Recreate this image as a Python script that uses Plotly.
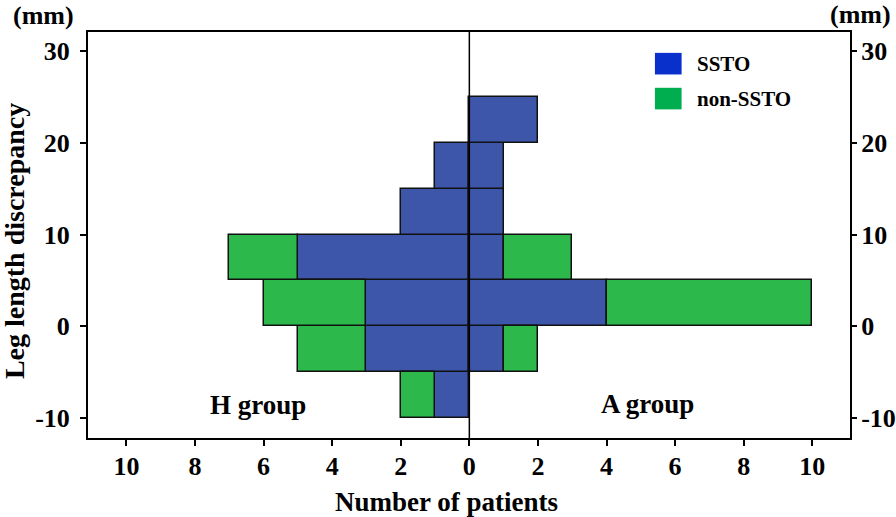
import plotly.graph_objects as go

#~ Data
bin_low = [-10, -5, 0, 5, 10, 15, 20]     # leg length discrepancy bins (mm), width 5
bin_w = 5
h_ssto = [1, 3, 3, 5, 2, 1, 0]            # H group, SSTO
h_non = [1, 2, 3, 2, 0, 0, 0]             # H group, non-SSTO
a_ssto = [0, 1, 4, 1, 1, 1, 2]            # A group, SSTO
a_non = [0, 1, 6, 2, 0, 0, 0]             # A group, non-SSTO
x_ticks = [-10, -8, -6, -4, -2, 0, 2, 4, 6, 8, 10]
y_ticks = [-10, 0, 10, 20, 30]

BLUE = "#3d56aa"
GREEN = "#2db84b"
FONT = "Liberation Serif"
centers = [b + bin_w / 2 for b in bin_low]
nz = lambda v: [x if x != 0 else None for x in v]
line = dict(color="#111111", width=1.5)

traces = [
    go.Bar(y=centers, x=nz([-v for v in h_ssto]), base=0, orientation="h", width=bin_w,
           marker=dict(color=BLUE, line=line), showlegend=False),
    go.Bar(y=centers, x=nz([-v for v in h_non]), base=[-v for v in h_ssto], orientation="h",
           width=bin_w, marker=dict(color=GREEN, line=line), showlegend=False),
    go.Bar(y=centers, x=nz(a_ssto), base=0, orientation="h", width=bin_w,
           marker=dict(color=BLUE, line=line), showlegend=False),
    go.Bar(y=centers, x=nz(a_non), base=a_ssto, orientation="h", width=bin_w,
           marker=dict(color=GREEN, line=line), showlegend=False),
    # invisible trace so the right-hand axis is drawn
    go.Scatter(x=[0], y=[0], yaxis="y2", mode="markers", marker=dict(opacity=0),
               showlegend=False, hoverinfo="skip"),
]

fig = go.Figure(data=traces)
tickfont = dict(family=FONT, size=26, color="black", weight="bold")
ytext = [str(t) for t in y_ticks]
fig.update_layout(
    width=896, height=517,
    margin=dict(l=88, r=46, t=32, b=79, autoexpand=False),
    paper_bgcolor="white", plot_bgcolor="white",
    barmode="overlay", bargap=0,
    font=dict(family=FONT, color="black"),
    xaxis=dict(range=[-11.12, 11.1], tickvals=x_ticks, ticktext=[str(abs(t)) for t in x_ticks],
               showgrid=False, zeroline=False, showline=True, linecolor="black", linewidth=2,
               mirror=True, ticks="outside", ticklen=6, tickwidth=1.5, tickcolor="black",
               tickfont=tickfont, ticklabelstandoff=-2, automargin=False),
    yaxis=dict(range=[-12.2, 32.1], tickvals=y_ticks, ticktext=ytext, showgrid=False,
               zeroline=False, showline=True, linecolor="black", linewidth=2, mirror=True,
               ticks="outside", ticklen=6, tickwidth=1.5, tickcolor="black",
               tickfont=tickfont, ticklabelstandoff=5, automargin=False),
    yaxis2=dict(range=[-12.2, 32.1], tickvals=y_ticks, ticktext=ytext, overlaying="y",
                side="right", showgrid=False, zeroline=False, showline=False,
                ticks="outside", ticklen=6, tickwidth=1.5, tickcolor="black",
                tickfont=tickfont, ticklabelstandoff=-1, automargin=False),
)

# centre line at zero
fig.add_shape(type="line", xref="x", yref="paper", x0=0, x1=0, y0=0, y1=1,
              line=dict(color="black", width=1.5), layer="above")

# legend drawn by hand (swatch colours differ from bars)
for i, (name, col) in enumerate([("SSTO", "#0a30cc"), ("non-SSTO", "#00ad4f")]):
    y0 = 0.922 - i * 0.086
    fig.add_shape(type="rect", xref="paper", yref="paper", x0=0.744, x1=0.779,
                  y0=y0 - 0.0266, y1=y0 + 0.0266, fillcolor=col, line=dict(width=0))
    fig.add_annotation(xref="paper", yref="paper", x=0.797, y=y0, text="<b>%s</b>" % name,
                       showarrow=False, xanchor="left", yanchor="middle",
                       font=dict(family=FONT, size=21, color="black"))

def ann(size):
    return dict(showarrow=False, xanchor="center", yanchor="middle",
                font=dict(family=FONT, size=size, color="black"))

fig.add_annotation(x=-6.17, y=-8.6, text="<b>H group</b>", **ann(27))
fig.add_annotation(x=5.2, y=-8.5, text="<b>A group</b>", **ann(27))
fig.add_annotation(xref="paper", yref="paper", x=0.471, y=0, yshift=-64,
                   text="<b>Number of patients</b>", **ann(27))
fig.add_annotation(xref="paper", yref="paper", x=0, xshift=-74, y=0.485,
                   text="<b>Leg length discrepancy</b>", textangle=-90, **ann(28))
fig.add_annotation(xref="paper", yref="paper", x=0, xshift=-45, y=1, yshift=17,
                   text="<b>(mm)</b>", **ann(26))
fig.add_annotation(xref="paper", yref="paper", x=1, xshift=10, y=1, yshift=18,
                   text="<b>(mm)</b>", **ann(26))

# drop the default 8px page margin so the figure fills the window exactly
fig.write_html("out.html", config={"displayModeBar": False},
               post_script="document.body.style.margin='0';")
